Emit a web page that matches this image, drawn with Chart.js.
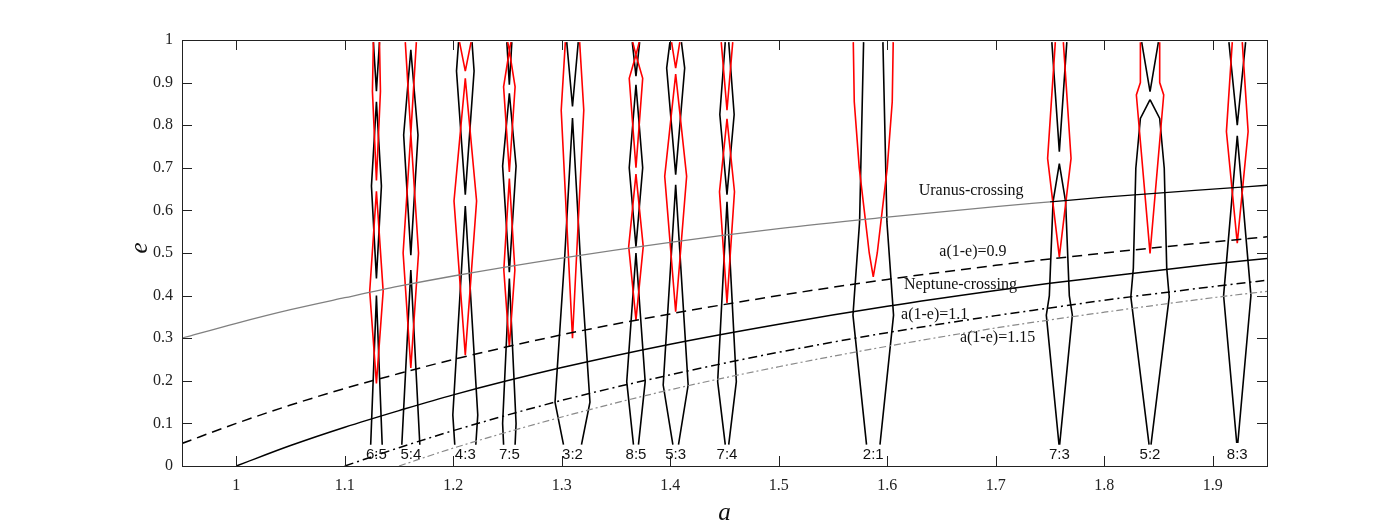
<!DOCTYPE html>
<html>
<head>
<meta charset="utf-8">
<script src="https://cdn.jsdelivr.net/npm/chart.js@4.4.1/dist/chart.umd.min.js"></script>
<style>
    html, body { margin: 0; padding: 0; background: #fff; }
    canvas { display: block; }
</style>
</head>
<body>
<canvas id="resChart" width="1400" height="526"></canvas>
<script>
// Trục
const xTicks = [1, 1.1, 1.2, 1.3, 1.4, 1.5, 1.6, 1.7, 1.8, 1.9];
const yTicks = [0, 0.1, 0.2, 0.3, 0.4, 0.5, 0.6, 0.7, 0.8, 0.9, 1];

// Các đường a(1-e) = const, đọc trên hình
const curveA = [0.95, 1.0, 1.05, 1.1, 1.15, 1.2, 1.3, 1.4, 1.5, 1.6, 1.7, 1.75, 1.8, 1.9, 1.95];
const uranusE = [0.300, 0.335, 0.367, 0.395, 0.422, 0.446, 0.488, 0.525, 0.557, 0.584, 0.609, 0.620, 0.631, 0.650, 0.659];
const q09E = [0.053, 0.100, 0.143, 0.182, 0.217, 0.250, 0.308, 0.357, 0.400, 0.438, 0.471, 0.486, 0.500, 0.526, 0.538];
const neptuneE = [null, 0, 0.048, 0.091, 0.130, 0.167, 0.231, 0.286, 0.333, 0.375, 0.412, 0.429, 0.444, 0.474, 0.487];
const q11E = [null, null, null, 0, 0.043, 0.083, 0.154, 0.214, 0.267, 0.313, 0.353, 0.371, 0.389, 0.421, 0.436];
const q115E = [null, null, null, null, 0, 0.042, 0.115, 0.179, 0.233, 0.281, 0.324, 0.343, 0.361, 0.395, 0.410];

// Cộng hưởng: tên và tâm a
const resonanceNames = ["6:5", "5:4", "4:3", "7:5", "3:2", "8:5", "5:3", "7:4", "2:1", "7:3", "5:2", "8:3"];
const resonanceCenters = [1.1292, 1.1609, 1.2111, 1.2517, 1.3099, 1.3684, 1.4050, 1.4523, 1.5871, 1.7586, 1.8422, 1.9226];

// Biên cộng hưởng: [e, nửa độ rộng theo a], null = đứt đoạn
const black65 = [[0.995, 0.0028], [0.88, 0], null, [0.855, 0], [0.657, 0.0046], [0.44, 0], null, [0.40, 0], [0.05, 0.0053]];
const red65 = [[0.995, 0.0028], [0.88, 0.0037], [0.67, 0], null, [0.645, 0], [0.41, 0.0062], [0.194, 0]];
const black54 = [[0.977, 0], [0.777, 0.0066], [0.495, 0], null, [0.46, 0], [0.05, 0.0083]];
const red54 = [[0.995, 0.0051], [0.78, 0], [0.50, 0.0071], [0.23, 0]];
const black43 = [[0.995, 0.0062], [0.927, 0.0081], [0.637, 0], null, [0.61, 0], [0.12, 0.0115], [0.05, 0.0097]];
const red43 = [[0.995, 0.0053], [0.927, 0], null, [0.91, 0], [0.622, 0.0104], [0.26, 0]];
const black75 = [[0.995, 0.0023], [0.895, 0], null, [0.875, 0], [0.704, 0.0062], [0.455, 0], null, [0.44, 0], [0.10, 0.0062], [0.05, 0.0053]];
const red75 = [[0.995, 0.0015], [0.975, 0], [0.89, 0.0053], [0.69, 0], null, [0.675, 0], [0.46, 0.0051], [0.28, 0]];
const black32 = [[0.995, 0.0053], [0.844, 0], null, [0.817, 0], [0.49, 0.0072], [0.15, 0.0161], [0.05, 0.0083]];
const red32 = [[0.995, 0.0066], [0.835, 0.0104], [0.30, 0]];
const black85 = [[0.995, 0.0034], [0.915, 0], null, [0.895, 0], [0.70, 0.0062], [0.515, 0], null, [0.50, 0], [0.198, 0.0085], [0.05, 0.0023]];
const red85 = [[0.995, 0.0030], [0.965, 0], [0.91, 0.0062], [0.70, 0], null, [0.685, 0], [0.515, 0.0067], [0.343, 0]];
const black53 = [[0.995, 0.0053], [0.934, 0.0083], [0.684, 0], null, [0.66, 0], [0.19, 0.0115], [0.05, 0.0026]];
const red53 = [[0.995, 0.0038], [0.934, 0], null, [0.92, 0], [0.68, 0.0101], [0.362, 0]];
const black74 = [[0.995, 0.0016], [0.825, 0.0066], [0.637, 0], null, [0.62, 0], [0.198, 0.0086], [0.05, 0.0016]];
const red74 = [[0.995, 0.0053], [0.835, 0], null, [0.815, 0], [0.644, 0.0069], [0.383, 0]];
const black21 = [[0.995, 0.0089], [0.573, 0.0126], [0.354, 0.0187], [0.05, 0.0062]];
const red21 = [[0.995, 0.0184], [0.855, 0.0175], [0.70, 0.0129], [0.60, 0.0083], [0.50, 0.0037], [0.444, 0]];
const black73 = [[0.995, 0.0069], [0.738, 0], null, [0.71, 0], [0.62, 0.0058], [0.40, 0.0092], [0.354, 0.0120], [0.05, 0.0003]];
const red73 = [[0.995, 0.0037], [0.722, 0.0108], [0.491, 0]];
const black52 = [[0.995, 0.0077], [0.879, 0], null, [0.86, 0], [0.816, 0.0089], [0.699, 0.0131], [0.464, 0.0154], [0.397, 0.0177], [0.05, 0.0009]];
const red52 = [[0.995, 0.0089], [0.90, 0.0089], [0.871, 0.0126], [0.499, 0]];
const black83 = [[0.995, 0.0077], [0.80, 0], null, [0.775, 0], [0.40, 0.0126], [0.054, 0.0005]];
const red83 = [[0.995, 0.0046], [0.785, 0.0100], [0.523, 0]];

const blackEdges = [black65, black54, black43, black75, black32, black85, black53, black74, black21, black73, black52, black83];
const redEdges = [red65, red54, red43, red75, red32, red85, red53, red74, red21, red73, red52, red83];

// Chữ chú thích trên hình: [text, a, e]
const curveNotes = [
    ["Uranus-crossing", 1.629, 0.646],
    ["a(1-e)=0.9", 1.648, 0.502],
    ["Neptune-crossing", 1.6155, 0.425],
    ["a(1-e)=1.1", 1.6127, 0.354],
    ["a(1-e)=1.15", 1.667, 0.300],
];

const SERIF = '"Liberation Serif", "Times New Roman", serif';
const SANS = '"Liberation Sans", Arial, sans-serif';

// Tạo điểm cho hai biên trái/phải của một cộng hưởng
function edgePoints(center, rows) {
    const pts = [];
    rows.forEach((r) => pts.push(r ? { x: center - r[1], y: r[0] } : { x: center, y: null }));
    pts.push({ x: center, y: null });
    rows.forEach((r) => pts.push(r ? { x: center + r[1], y: r[0] } : { x: center, y: null }));
    return pts;
}

function curvePoints(values) {
    return curveA.map((a, i) => ({ x: a, y: values[i] }));
}

const datasets = [];
const smooth = { cubicInterpolationMode: "monotone" };

// Đường a(1-e)
datasets.push({
    ...smooth, data: curvePoints(uranusE), borderColor: "#808080", borderWidth: 1.3,
    segment: { borderColor: (ctx) => (ctx.p0.parsed.x >= 1.75 ? "#000" : "#808080") },
});
datasets.push({ ...smooth, data: curvePoints(q09E), borderColor: "#000", borderWidth: 1.5, borderDash: [10, 6] });
datasets.push({ ...smooth, data: curvePoints(neptuneE), borderColor: "#000", borderWidth: 1.5 });
datasets.push({ ...smooth, data: curvePoints(q11E), borderColor: "#000", borderWidth: 1.5, borderDash: [9, 4, 2, 4] });
datasets.push({ ...smooth, data: curvePoints(q115E), borderColor: "#8a8a8a", borderWidth: 1.2, borderDash: [7, 3, 2, 3] });

// Biên cộng hưởng
resonanceCenters.forEach((c, i) => {
    datasets.push({ data: edgePoints(c, redEdges[i]), borderColor: "#ff0000", borderWidth: 1.6 });
    datasets.push({ data: edgePoints(c, blackEdges[i]), borderColor: "#000", borderWidth: 1.6 });
});

// Khung, vạch chia hướng vào trong, chữ
const framePlugin = {
    id: "frame",
    afterDraw(chart) {
        const { ctx, chartArea: ca, scales } = chart;
        const xs = scales.x, ys = scales.y;
        ctx.save();
        ctx.strokeStyle = "#222";
        ctx.lineWidth = 1;
        ctx.strokeRect(ca.left + 0.5, ca.top + 0.5, ca.right - ca.left, ca.bottom - ca.top);
        ctx.beginPath();
        xTicks.forEach((v) => {
            const px = Math.round(xs.getPixelForValue(v)) + 0.5;
            ctx.moveTo(px, ca.bottom); ctx.lineTo(px, ca.bottom - 10);
            ctx.moveTo(px, ca.top); ctx.lineTo(px, ca.top + 10);
        });
        yTicks.forEach((v) => {
            const py = Math.round(ys.getPixelForValue(v)) + 0.5;
            ctx.moveTo(ca.left, py); ctx.lineTo(ca.left + 10, py);
            ctx.moveTo(ca.right, py); ctx.lineTo(ca.right - 10, py);
        });
        ctx.stroke();

        // chú thích các đường
        ctx.fillStyle = "#111";
        ctx.font = "16px " + SERIF;
        ctx.textAlign = "left";
        ctx.textBaseline = "middle";
        curveNotes.forEach(([t, a, e]) => {
            ctx.fillText(t, xs.getPixelForValue(a), ys.getPixelForValue(e));
        });

        // tên cộng hưởng
        ctx.font = "15px " + SANS;
        ctx.textAlign = "center";
        resonanceNames.forEach((name, i) => {
            ctx.fillText(name, xs.getPixelForValue(resonanceCenters[i]), ys.getPixelForValue(0.026));
        });

        // tên trục
        ctx.font = "italic 25px " + SERIF;
        ctx.fillText("a", (ca.left + ca.right) / 2, ca.bottom + 47);
        ctx.translate(ca.left - 42, (ca.top + ca.bottom) / 2 - 5);
        ctx.rotate(-Math.PI / 2);
        ctx.fillText("e", 0, 0);
        ctx.restore();
    },
};

function fmt(v) {
    return String(Math.round(v * 100) / 100);
}

new Chart(document.getElementById("resChart"), {
    type: "line",
    data: { datasets },
    options: {
        responsive: false,
        animation: false,
        events: [],
        layout: { padding: { top: 40, right: 133, left: 0, bottom: 0 } },
        elements: { point: { radius: 0 }, line: { tension: 0 } },
        plugins: { legend: { display: false }, tooltip: { enabled: false } },
        scales: {
            x: {
                type: "linear", min: 0.95, max: 1.95,
                afterFit: (s) => { s.height = 60; },
                afterBuildTicks: (s) => { s.ticks = xTicks.map((v) => ({ value: v })); },
                grid: { display: false, drawTicks: false },
                border: { display: false },
                ticks: { padding: 10, color: "#222", font: { family: SERIF, size: 16 }, callback: fmt, maxRotation: 0, autoSkip: false },
            },
            y: {
                type: "linear", min: 0, max: 1,
                afterFit: (s) => { s.width = 182; },
                afterBuildTicks: (s) => { s.ticks = yTicks.map((v) => ({ value: v })); },
                grid: { display: false, drawTicks: false },
                border: { display: false },
                ticks: { padding: 9, color: "#222", font: { family: SERIF, size: 16 }, callback: fmt, autoSkip: false },
            },
        },
    },
    plugins: [framePlugin],
});
</script>
</body>
</html>
